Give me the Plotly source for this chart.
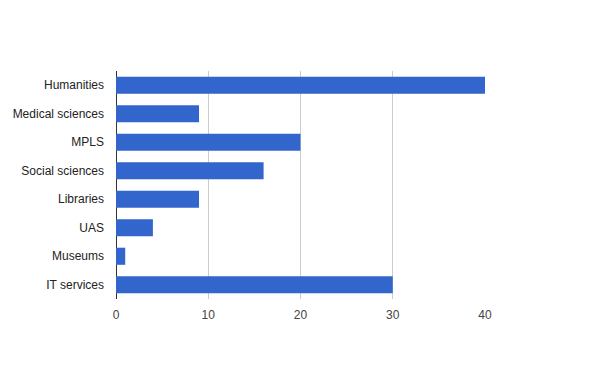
import plotly.graph_objects as go

categories = ["Humanities", "Medical sciences", "MPLS", "Social sciences",
              "Libraries", "UAS", "Museums", "IT services"]
values = [40, 9, 20, 16, 9, 4, 1, 30]
x_ticks = [0, 10, 20, 30, 40]

fig = go.Figure(go.Bar(
    x=values, y=categories, orientation="h",
    marker=dict(color="#3366cc", line=dict(width=0)),
    width=0.6,
))

# page body has an 8px margin, so the figure is offset by (8, 8)
fig.update_layout(
    width=600, height=371,
    margin=dict(l=107.5, r=122.5, t=63, b=80, pad=0, autoexpand=False),
    paper_bgcolor="white", plot_bgcolor="white",
    font=dict(family="Liberation Sans, Arial, sans-serif", size=12, color="#222222"),
    showlegend=False,
    bargap=0.4,
)
fig.update_xaxes(
    range=[0, 40], tickvals=x_ticks, showgrid=True, gridcolor="#cccccc", gridwidth=1,
    zeroline=True, zerolinecolor="#333333", zerolinewidth=1,
    showline=False, ticks="", ticklabelstandoff=7, fixedrange=True,
    tickfont=dict(color="#444444"), automargin=False,
)
fig.update_yaxes(
    categoryorder="array", categoryarray=categories[::-1],
    showgrid=False, zeroline=False, showline=False, ticks="",
    ticklabelstandoff=11, fixedrange=True, automargin=False,
    tickfont=dict(color="#222222"),
)

fig.write_html("out.html")
